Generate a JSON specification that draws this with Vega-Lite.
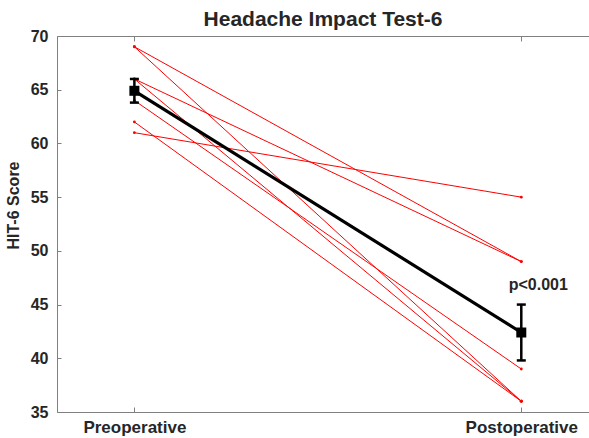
{
  "$schema": "https://vega.github.io/schema/vega-lite/v6.json",
  "autosize": "none",
  "width": 532,
  "height": 376,
  "padding": {"left": 57, "top": 36, "right": 0, "bottom": 26},
  "background": "white",
  "config": {
    "view": {"stroke": null},
    "font": "Liberation Sans",
    "axis": {"grid": false, "domainColor": "#808080", "tickColor": "#808080", "labelColor": "#262626", "titleColor": "#262626", "labelFont": "Liberation Sans", "titleFont": "Liberation Sans", "labelFontWeight": "bold", "titleFontWeight": "bold"}
  },
  "title": {"text": "Headache Impact Test-6", "fontSize": 21, "fontWeight": "bold", "color": "#262626", "font": "Liberation Sans", "anchor": "middle", "offset": -2},
  "datasets": {
    "patients": [
      {"id": 1, "time": 1, "score": 69}, {"id": 1, "time": 2, "score": 49},
      {"id": 2, "time": 1, "score": 69}, {"id": 2, "time": 2, "score": 36},
      {"id": 3, "time": 1, "score": 66}, {"id": 3, "time": 2, "score": 49},
      {"id": 4, "time": 1, "score": 66}, {"id": 4, "time": 2, "score": 36},
      {"id": 5, "time": 1, "score": 64}, {"id": 5, "time": 2, "score": 39},
      {"id": 6, "time": 1, "score": 62}, {"id": 6, "time": 2, "score": 36},
      {"id": 7, "time": 1, "score": 61}, {"id": 7, "time": 2, "score": 55}
    ],
    "means": [
      {"time": 1, "mean": 64.9, "lo": 63.8, "hi": 66.0},
      {"time": 2, "mean": 42.4, "lo": 39.8, "hi": 45.0}
    ],
    "annot": [
      {"time": 2, "score": 45.0, "label": "p<0.001"}
    ]
  },
  "resolve": {"axis": {"x": "independent"}},
  "layer": [
    {
      "data": {"name": "patients"},
      "mark": {"type": "line", "color": "#ff0000", "strokeWidth": 1},
      "encoding": {
        "x": {"field": "time", "type": "quantitative", "scale": {"domain": [0.8, 2.175], "nice": false, "zero": false},
              "axis": {"orient": "bottom", "values": [1, 2], "labelExpr": "datum.value == 1 ? 'Preoperative' : 'Postoperative'", "labelFontSize": 17, "tickSize": -5, "labelPadding": 12, "title": null, "labelFlush": false}},
        "y": {"field": "score", "type": "quantitative", "scale": {"domain": [35, 70], "nice": false, "zero": false},
              "axis": {"values": [35, 40, 45, 50, 55, 60, 65, 70], "labelFontSize": 16, "tickSize": -4, "labelPadding": 13, "title": "HIT-6 Score", "titleFontSize": 16, "titlePadding": 9, "titleY": 169}},
        "detail": {"field": "id"}
      }
    },
    {
      "data": {"name": "patients"},
      "mark": {"type": "circle", "color": "#ff0000", "size": 8, "opacity": 1},
      "encoding": {
        "x": {"field": "time", "type": "quantitative", "axis": null},
        "y": {"field": "score", "type": "quantitative"}
      }
    },
    {
      "data": {"name": "means"},
      "mark": {"type": "line", "color": "#000000", "strokeWidth": 3.2},
      "encoding": {
        "x": {"field": "time", "type": "quantitative", "axis": null},
        "y": {"field": "mean", "type": "quantitative"}
      }
    },
    {
      "data": {"name": "means"},
      "mark": {"type": "rule", "color": "#000000", "strokeWidth": 2.5},
      "encoding": {
        "x": {"field": "time", "type": "quantitative", "axis": null},
        "y": {"field": "lo", "type": "quantitative"},
        "y2": {"field": "hi"}
      }
    },
    {
      "data": {"name": "means"},
      "mark": {"type": "tick", "orient": "horizontal", "color": "#000000", "size": 9, "thickness": 2.5, "opacity": 1},
      "encoding": {
        "x": {"field": "time", "type": "quantitative", "axis": null},
        "y": {"field": "lo", "type": "quantitative"}
      }
    },
    {
      "data": {"name": "means"},
      "mark": {"type": "tick", "orient": "horizontal", "color": "#000000", "size": 9, "thickness": 2.5, "opacity": 1},
      "encoding": {
        "x": {"field": "time", "type": "quantitative", "axis": null},
        "y": {"field": "hi", "type": "quantitative"}
      }
    },
    {
      "data": {"name": "means"},
      "mark": {"type": "square", "color": "#000000", "size": 100, "filled": true, "opacity": 1},
      "encoding": {
        "x": {"field": "time", "type": "quantitative", "axis": null},
        "y": {"field": "mean", "type": "quantitative"}
      }
    },
    {
      "data": {"name": "annot"},
      "mark": {"type": "text", "font": "Liberation Sans", "fontWeight": "bold", "fontSize": 16, "color": "#262626", "align": "center", "baseline": "middle", "dx": 17, "dy": -20},
      "encoding": {
        "x": {"field": "time", "type": "quantitative",
              "axis": {"orient": "top", "values": [1, 2], "labels": false, "tickSize": -5, "title": null, "domainColor": "#808080"}},
        "y": {"field": "score", "type": "quantitative"},
        "text": {"field": "label"}
      }
    }
  ]
}
